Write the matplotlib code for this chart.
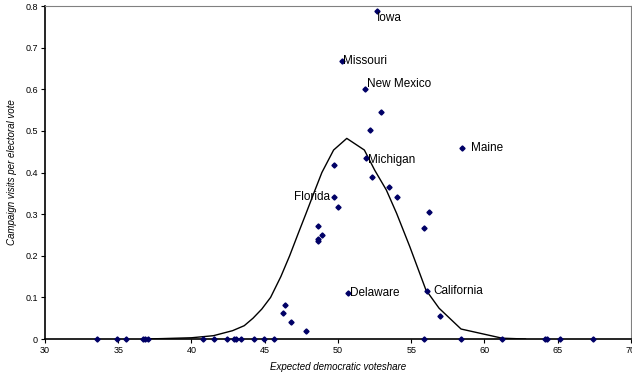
import numpy as np
import matplotlib.pyplot as plt

plt.rcParams['font.family'] = ['Liberation Sans', 'DejaVu Sans']

# state points: expected democratic voteshare vs visits per electoral vote
vote = [33.53, 34.89, 35.51, 36.67, 36.85, 37.01, 40.76, 41.56, 42.44, 42.92,
        43.04, 43.36, 44.29, 44.95, 45.63, 55.87, 58.42, 61.19, 64.13, 64.27,
        65.15, 67.43,
        46.27, 46.40, 46.81, 47.82, 48.66, 48.66, 48.88, 48.62,
        49.75, 50.02, 49.75, 51.93, 52.32, 53.50, 54.00, 52.18, 52.94,
        51.86, 50.27, 52.64, 58.49, 56.23, 55.87, 56.10, 56.94, 50.70]
visits = [0.0] * 22 + [
        0.063, 0.082, 0.041, 0.020, 0.272, 0.240, 0.250, 0.236,
        0.341, 0.318, 0.418, 0.436, 0.389, 0.365, 0.341, 0.501, 0.546,
        0.600, 0.668, 0.787, 0.459, 0.304, 0.266, 0.116, 0.055, 0.111]

# labelled states
lab_names = ['Iowa', 'Missouri', 'New Mexico', 'Michigan', 'Maine',
             'Florida', 'Delaware', 'California']
lab_x = [52.64, 50.27, 51.86, 51.93, 58.49, 49.75, 50.70, 56.10]
lab_y = [0.787, 0.668, 0.600, 0.436, 0.459, 0.341, 0.111, 0.116]
lab_off = [(0, -5), (1, 0), (1, 4), (1, -2), (6, 0), (-3, 0), (1, 0), (4, 0)]

# fitted curve
curve_x = [36.7, 38.0, 40.0, 41.5, 42.8, 43.6, 44.2, 44.8, 45.4, 46.1, 46.7,
           47.3, 47.8, 48.4, 48.9, 49.7, 50.6, 51.8, 52.5, 53.3, 54.0,
           54.9, 56.0, 56.9, 58.4, 61.2, 62.8]
curve_y = [0.0, 0.001, 0.003, 0.008, 0.02, 0.032, 0.05, 0.072, 0.10, 0.15,
           0.20, 0.255, 0.30, 0.355, 0.40, 0.454, 0.482, 0.454,
           0.406, 0.358, 0.302, 0.222, 0.118, 0.074, 0.024, 0.002, 0.0]

fig = plt.figure(figsize=(6.32, 3.81), dpi=100)
ax = fig.add_axes([0.0712, 0.1102, 0.9272, 0.8740])

ax.plot(curve_x, curve_y, color='black', lw=1.0, zorder=2)
ax.plot(vote, visits, 'D', color='#000066', markersize=2.6, zorder=3, clip_on=False)

for name, x, y, off in zip(lab_names, lab_x, lab_y, lab_off):
    ha = 'right' if off[0] < 0 else 'left'
    ax.annotate(name, (x, y), xytext=off, textcoords='offset points',
                ha=ha, va='center', fontsize=8.5)

ax.set_xlim(30, 70)
ax.set_ylim(0, 0.8)
ax.set_xticks(np.arange(30, 71, 5))
ax.set_yticks(np.arange(0, 0.81, 0.1))
ax.set_yticklabels(['0', '0.1', '0.2', '0.3', '0.4', '0.5', '0.6', '0.7', '0.8'])
ax.tick_params(labelsize=6.5, length=3, width=0.8, direction='out', pad=2)

ax.spines['left'].set_color('black')
ax.spines['bottom'].set_color('black')
ax.spines['left'].set_linewidth(1.2)
ax.spines['bottom'].set_linewidth(1.2)
ax.spines['top'].set_color('#808080')
ax.spines['right'].set_color('#808080')

ax.set_xlabel('Expected democratic voteshare', fontsize=7, style='italic', labelpad=5)
ax.set_ylabel('Campaign visits per electoral vote', fontsize=7, style='italic', labelpad=6)

fig.savefig('out.png', dpi=100)
